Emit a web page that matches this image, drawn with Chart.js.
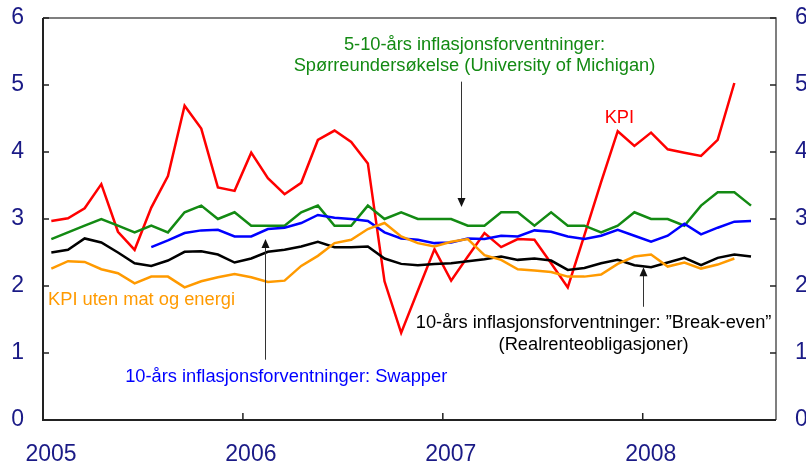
<!DOCTYPE html>
<html>
<head>
<meta charset="utf-8">
<script src="https://cdn.jsdelivr.net/npm/chart.js@4"></script>
<style>
  html, body { margin: 0; padding: 0; background: #fff; }
  #wrap { width: 806px; height: 468px; }
</style>
</head>
<body>
<div id="wrap"><canvas id="c" width="806" height="468"></canvas></div>
<script>
// monthly values, Jan 2005 .. Jul 2008 (43 months)
const yearTicks = [0, 12, 24, 36];
const yearLabels = ['2005', '2006', '2007', '2008'];
const yTicks = [0, 1, 2, 3, 4, 5, 6];

const kpi = [2.97, 3.01, 3.16, 3.52, 2.81, 2.54, 3.17, 3.64, 4.69, 4.35, 3.47, 3.42,
             3.99, 3.61, 3.37, 3.54, 4.18, 4.32, 4.15, 3.83, 2.07, 1.30, 1.93, 2.55,
             2.08, 2.44, 2.79, 2.58, 2.70, 2.69, 2.34, 1.98, 2.76, 3.55, 4.31, 4.09,
             4.29, 4.04, 3.99, 3.94, 4.18, 5.03, null];
const kpiCore = [2.26, 2.37, 2.36, 2.25, 2.19, 2.04, 2.14, 2.14, 1.98, 2.07, 2.13, 2.18,
                 2.13, 2.06, 2.08, 2.30, 2.45, 2.64, 2.69, 2.85, 2.94, 2.74, 2.64, 2.59,
                 2.66, 2.70, 2.46, 2.39, 2.25, 2.23, 2.21, 2.14, 2.14, 2.17, 2.33, 2.44,
                 2.47, 2.29, 2.35, 2.26, 2.32, 2.41, null];
const swapper = [null, null, null, null, null, null, 2.58, 2.68, 2.79, 2.83, 2.84, 2.74,
                 2.74, 2.85, 2.87, 2.94, 3.06, 3.02, 3.00, 2.97, 2.80, 2.71, 2.69, 2.64,
                 2.65, 2.71, 2.70, 2.75, 2.74, 2.83, 2.81, 2.74, 2.70, 2.75, 2.84, 2.75,
                 2.66, 2.75, 2.93, 2.77, 2.87, 2.96, 2.97];
const michigan = [2.70, 2.80, 2.90, 3.00, 2.90, 2.80, 2.90, 2.80, 3.10, 3.20, 3.00, 3.10,
                  2.90, 2.90, 2.90, 3.10, 3.20, 2.90, 2.90, 3.20, 3.00, 3.10, 3.00, 3.00,
                  3.00, 2.90, 2.90, 3.10, 3.10, 2.90, 3.10, 2.90, 2.90, 2.80, 2.90, 3.10,
                  3.00, 3.00, 2.90, 3.20, 3.40, 3.40, 3.20];
const breakEven = [2.50, 2.54, 2.71, 2.65, 2.50, 2.34, 2.30, 2.38, 2.51, 2.52, 2.47, 2.35,
                   2.41, 2.51, 2.54, 2.59, 2.66, 2.58, 2.58, 2.59, 2.41, 2.33, 2.31, 2.33,
                   2.34, 2.37, 2.40, 2.44, 2.39, 2.41, 2.38, 2.24, 2.27, 2.34, 2.39, 2.31,
                   2.28, 2.35, 2.42, 2.31, 2.42, 2.47, 2.44];

const tickColor = '#1a1a86';
const FONT = '"Liberation Sans", Arial, sans-serif';

// points sit mid-month
const toPoints = arr => arr.map((v, i) => ({ x: i + 0.5, y: v }));

// text labels: [text, xMonth, yValue, color, align]
const notes = [
    ['5-10-års inflasjonsforventninger:', 25.9, 5.60, '#138a13', 'center'],
    ['Spørreundersøkelse (University of Michigan)', 25.9, 5.285, '#138a13', 'center'],
    ['KPI', 34.6, 4.51, '#ff0000', 'center'],
    ['KPI uten mat og energi', 0.3, 1.79, '#ff9a00', 'left'],
    ['10-års inflasjonsforventninger: Swapper', 14.6, 0.64, '#0000ff', 'center'],
    ['10-års inflasjonsforventninger: \u201dBreak-even\u201d', 33.05, 1.45, '#000000', 'center'],
    ['(Realrenteobligasjoner)', 33.05, 1.12, '#000000', 'center']
];
// arrows: [xMonth, yFrom, yTip]
const arrows = [
    [25.1, 5.05, 3.18],
    [13.3, 0.90, 2.70],
    [36.0, 1.69, 2.28]
];

const decor = {
    id: 'decor',
    afterDatasetsDraw(chart) {
        const { ctx, chartArea: a, scales } = chart;
        const sx = scales.x, sy = scales.y;
        ctx.save();
        // frame
        ctx.strokeStyle = '#555';
        ctx.lineWidth = 1.5;
        ctx.beginPath();
        ctx.moveTo(a.left, a.top); ctx.lineTo(a.right, a.top); ctx.lineTo(a.right, a.bottom);
        ctx.stroke();
        ctx.strokeStyle = '#222';
        ctx.lineWidth = 2;
        ctx.beginPath();
        ctx.moveTo(a.left, a.top); ctx.lineTo(a.left, a.bottom); ctx.lineTo(a.right, a.bottom);
        ctx.stroke();
        // inward ticks
        ctx.lineWidth = 1.5;
        ctx.strokeStyle = '#222';
        ctx.beginPath();
        yTicks.forEach(v => {
            const py = sy.getPixelForValue(v);
            ctx.moveTo(a.left, py); ctx.lineTo(a.left + 6, py);
            ctx.moveTo(a.right, py); ctx.lineTo(a.right - 6, py);
        });
        yearTicks.slice(1).forEach(v => {
            const px = sx.getPixelForValue(v);
            ctx.moveTo(px, a.bottom); ctx.lineTo(px, a.bottom - 7);
        });
        ctx.stroke();
        // arrows
        ctx.strokeStyle = '#333';
        ctx.fillStyle = '#111';
        ctx.lineWidth = 1;
        arrows.forEach(([xm, y0, y1]) => {
            const px = Math.round(sx.getPixelForValue(xm)) + 0.5;
            const p0 = sy.getPixelForValue(y0), p1 = sy.getPixelForValue(y1);
            const dir = p1 > p0 ? 1 : -1;
            ctx.beginPath();
            ctx.moveTo(px, p0); ctx.lineTo(px, p1 - dir * 8);
            ctx.stroke();
            ctx.beginPath();
            ctx.moveTo(px, p1);
            ctx.lineTo(px - 4, p1 - dir * 9);
            ctx.lineTo(px + 4, p1 - dir * 9);
            ctx.closePath();
            ctx.fill();
        });
        // text
        ctx.font = '18.3px ' + FONT;
        ctx.textBaseline = 'middle';
        notes.forEach(([t, xm, yv, col, al]) => {
            ctx.fillStyle = col;
            ctx.textAlign = al;
            ctx.fillText(t, sx.getPixelForValue(xm), sy.getPixelForValue(yv));
        });
        ctx.restore();
    }
};

const lineDs = (label, arr, color) => ({
    label,
    data: toPoints(arr),
    borderColor: color,
    backgroundColor: color,
    borderWidth: 2.5,
    pointRadius: 0,
    tension: 0,
    spanGaps: false
});

const yAxis = (pos, w) => ({
    position: pos,
    min: 0,
    max: 6,
    afterBuildTicks: s => { s.ticks = yTicks.map(v => ({ value: v })); },
    ticks: { color: tickColor, font: { family: FONT, size: 23 }, padding: 19 },
    grid: { display: false, drawTicks: false },
    border: { display: false },
    afterFit: s => { s.width = w; s.paddingTop = 0; s.paddingBottom = 0; }
});

new Chart(document.getElementById('c').getContext('2d'), {
    type: 'line',
    data: {
        datasets: [
            lineDs('KPI uten mat og energi', kpiCore, '#ff9a00'),
            lineDs('Break-even', breakEven, '#000000'),
            lineDs('Swapper', swapper, '#0000ff'),
            lineDs('Michigan', michigan, '#138a13'),
            lineDs('KPI', kpi, '#ff0000')
        ]
    },
    options: {
        responsive: false,
        animation: false,
        layout: { padding: { top: 18, left: 0, right: 0, bottom: 0 } },
        plugins: { legend: { display: false }, tooltip: { enabled: false } },
        scales: {
            x: {
                type: 'linear',
                min: 0,
                max: 44,
                afterBuildTicks: s => { s.ticks = yearTicks.map(v => ({ value: v })); },
                ticks: {
                    callback: v => yearLabels[yearTicks.indexOf(v)],
                    color: tickColor,
                    font: { family: FONT, size: 23 },
                    labelOffset: 8,
                    padding: 21,
                    maxRotation: 0,
                    autoSkip: false
                },
                grid: { display: false, drawTicks: false },
                border: { display: false },
                afterFit: s => { s.height = 48; s.paddingLeft = 0; s.paddingRight = 0; }
            },
            y: yAxis('left', 43),
            y2: yAxis('right', 30)
        }
    },
    plugins: [decor]
});
</script>
</body>
</html>
